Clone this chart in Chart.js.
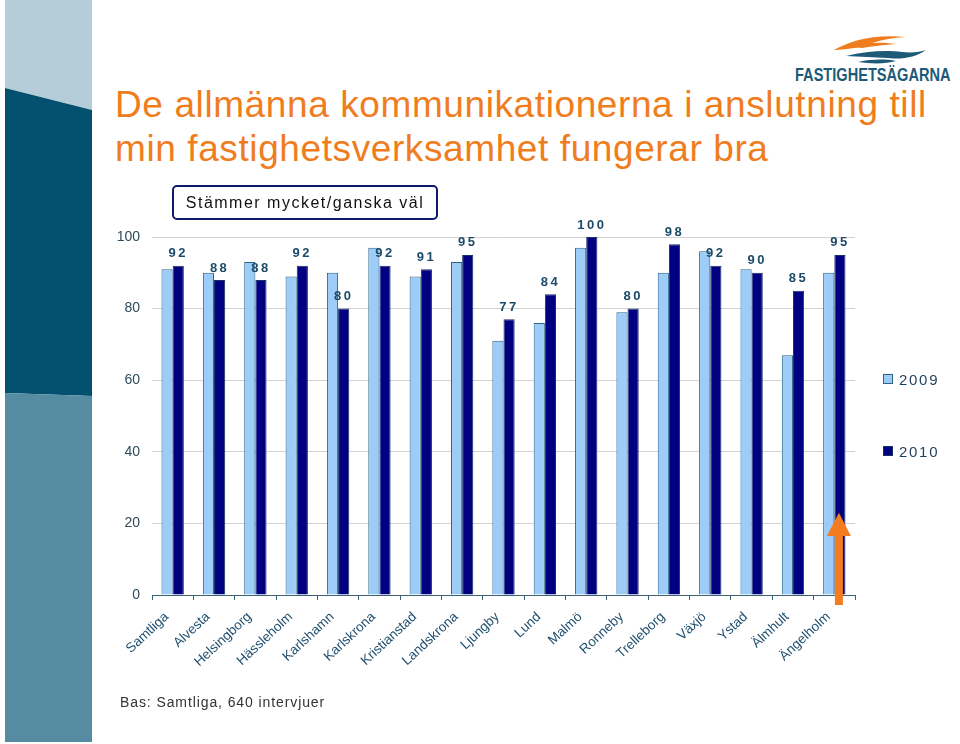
<!DOCTYPE html>
<html lang="sv">
<head>
<meta charset="utf-8">
<title>De allmänna kommunikationerna</title>
<script src="https://cdn.jsdelivr.net/npm/chart.js@4.4.1/dist/chart.umd.min.js"></script>
<style>
  html, body { margin: 0; padding: 0; background: #fff; }
  #slide { position: relative; width: 960px; height: 744px; overflow: hidden; font-family: 'Liberation Sans', Arial, sans-serif; }
  #side { position: absolute; left: 0; top: 0; }
  #chart { position: absolute; left: 0; top: 0; }
  .title { position: absolute; left: 115px; top: 83px; font-size: 37px; line-height: 43.5px; letter-spacing: 0.6px; color: #ef7d1e; white-space: nowrap; }
  #box { position: absolute; left: 172px; top: 185px; width: 262px; height: 31px; border: 2px solid #0f1a6b; border-radius: 5px; font-size: 16px; line-height: 31px; letter-spacing: 1.5px; text-align: center; color: #111; }
  #note { position: absolute; left: 120px; top: 694px; font-size: 14px; line-height: 16px; letter-spacing: 0.9px; color: #333; }
  #logoText { position: absolute; left: 795px; top: 65px; font-size: 18px; font-weight: bold; color: #1d5a78; transform: scaleX(0.81); transform-origin: left top; white-space: nowrap; }
  #legend { position: absolute; left: 883px; top: 0; }
  .leg { position: absolute; left: 0; white-space: nowrap; font-size: 15px; line-height: 18px; letter-spacing: 1.7px; color: #1f3f5f; }
  .leg span { display: inline-block; width: 8px; height: 8px; margin-right: 6px; vertical-align: 1px; }
</style>
</head>
<body>
<div id="slide">
  <svg id="side" width="960" height="744">
    <polygon points="5,0 92,0 92,110 5,88" fill="#b5cdd8"/>
    <polygon points="5,88 92,110 92,396 5,393" fill="#03506f"/>
    <polygon points="5,393 92,396 92,742 5,742" fill="#558ca2"/>
    <!-- logo -->
    <path d="M834,50 C852,40 874,34 906,37 C888,38 872,42 862,47 C848,49 840,50 834,50 Z" fill="#ef7d1e"/>
    <path d="M850,46 C866,42 882,42 896,44 C884,45 872,46 862,48 Z" fill="#ef7d1e"/>
    <path d="M846,56 C866,51 886,50 902,52 C912,53 920,52 926,50 C916,57 902,60 888,58 C874,57 860,57 846,56 Z" fill="#1d5a78"/>
    <path d="M858,62 C872,59 886,59 896,61 C886,64 872,64 858,62 Z" fill="#1d5a78"/>
  </svg>
  <div id="logoText">FASTIGHETSÄGARNA</div>
  <div class="title">De allmänna kommunikationerna i anslutning till<br>min fastighetsverksamhet fungerar bra</div>
  <canvas id="chart" width="960" height="744"></canvas>
  <div id="box">Stämmer mycket/ganska väl</div>
  <div id="legend"></div>
  <div id="note">Bas: Samtliga, 640 intervjuer</div>
</div>
<script>
window.onload = init;

const kommuner = ["Samtliga", "Alvesta", "Helsingborg", "Hässleholm", "Karlshamn", "Karlskrona",
  "Kristianstad", "Landskrona", "Ljungby", "Lund", "Malmö", "Ronneby", "Trelleborg", "Växjö",
  "Ystad", "Älmhult", "Ängelholm"];
const values2009 = [91, 90, 93, 89, 90, 97, 89, 93, 71, 76, 97, 79, 90, 96, 91, 67, 90];
const values2010 = [92, 88, 88, 92, 80, 92, 91, 95, 77, 84, 100, 80, 98, 92, 90, 85, 95];
const yTicks = [0, 20, 40, 60, 80, 100];
const seriesNames = ["2009", "2010"];

// pilen vid Ängelholm (index + spetsens värde)
const arrowIndex = 16;
const arrowTip = 23;
const arrowHeadBase = 16.5;

const FONT = "'Liberation Sans', Arial, sans-serif";

let chart;

const valueLabels = {
  id: "valueLabels",
  afterDatasetsDraw(c) {
    const ctx = c.ctx;
    const meta = c.getDatasetMeta(1);
    ctx.save();
    ctx.font = "bold 13px " + FONT;
    ctx.fillStyle = "#1b4b68";
    ctx.textAlign = "center";
    ctx.textBaseline = "middle";
    ctx.letterSpacing = "2.5px";
    meta.data.forEach((bar, i) => {
      ctx.fillText(String(values2010[i]), bar.x, bar.y - 12);
    });
    ctx.restore();
  }
};

const arrowPlugin = {
  id: "arrow",
  afterDraw(c) {
    const ctx = c.ctx;
    const bar = c.getDatasetMeta(1).data[arrowIndex];
    const y = c.scales.y;
    const x = bar.x - 1;
    const tip = y.getPixelForValue(arrowTip);
    const base = y.getPixelForValue(arrowHeadBase);
    const bottom = y.getPixelForValue(0) + 10;
    ctx.save();
    ctx.fillStyle = "#f47b20";
    ctx.beginPath();
    ctx.moveTo(x, tip);
    ctx.lineTo(x + 12, base);
    ctx.lineTo(x + 4, base);
    ctx.lineTo(x + 4, bottom);
    ctx.lineTo(x - 4, bottom);
    ctx.lineTo(x - 4, base);
    ctx.lineTo(x - 12, base);
    ctx.closePath();
    ctx.fill();
    ctx.restore();
  }
};

function init() {
  const ctx = document.getElementById("chart").getContext("2d");
  chart = new Chart(ctx, {
    type: "bar",
    data: {
      labels: kommuner,
      datasets: [{
        label: seriesNames[0],
        data: values2009,
        backgroundColor: "#9cccf7",
        borderColor: "#2a6585",
        borderWidth: 1
      }, {
        label: seriesNames[1],
        data: values2010,
        backgroundColor: "#000080",
        borderColor: "#16306a",
        borderWidth: 1
      }]
    },
    options: {
      responsive: false,
      animation: false,
      layout: { padding: { left: 112, right: 105, top: 237, bottom: 69 } },
      datasets: { bar: { categoryPercentage: 0.54, barPercentage: 1.0 } },
      plugins: {
        legend: { display: false },
        tooltip: { enabled: false }
      },
      scales: {
        x: {
          afterFit: (s) => { s.height = 80; },
          grid: { drawOnChartArea: false, drawTicks: true, tickLength: 5, color: "#3d6272", offset: true },
          border: { display: true, color: "#3d6272", width: 1 },
          ticks: {
            autoSkip: false, minRotation: 43, maxRotation: 43, padding: 9, labelOffset: -6,
            color: "#1f4f6e", font: { family: FONT, size: 13.5 }
          }
        },
        y: {
          min: 0, max: 100,
          afterFit: (s) => { s.width = 40; },
          afterBuildTicks: (s) => { s.ticks = yTicks.map(v => ({ value: v })); },
          grid: { drawTicks: false, color: "#d3d3d3", lineWidth: 1 },
          border: { display: false },
          ticks: { padding: 12, color: "#2e4b5c", font: { family: FONT, size: 14 } }
        }
      }
    },
    plugins: [valueLabels, arrowPlugin]
  });
  buildLegend();
}

function buildLegend() {
  const leg = document.getElementById("legend");
  const y = chart.scales.y;
  const rows = [60, 40];
  chart.data.datasets.forEach((ds, i) => {
    const row = document.createElement("div");
    row.className = "leg";
    row.style.top = (y.getPixelForValue(rows[i]) - 9) + "px";
    const sq = document.createElement("span");
    sq.style.background = ds.backgroundColor;
    sq.style.border = "1px solid " + ds.borderColor;
    row.appendChild(sq);
    row.appendChild(document.createTextNode(ds.label));
    leg.appendChild(row);
  });
}
</script>
</body>
</html>
